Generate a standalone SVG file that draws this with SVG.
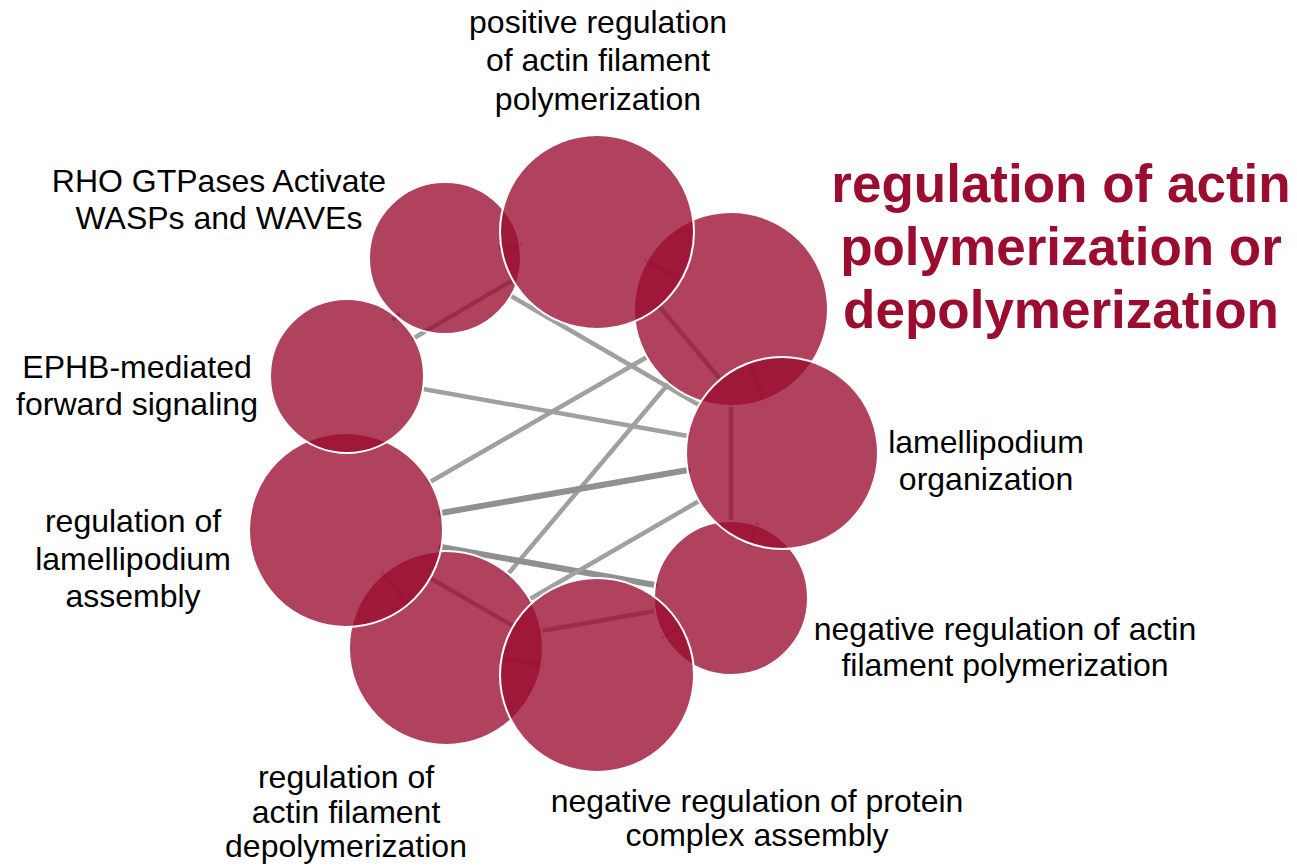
<svg xmlns="http://www.w3.org/2000/svg" width="1297" height="866" viewBox="0 0 1297 866">
<style>
.bg{fill:#ffffff}
.e{stroke:#a0a0a0;stroke-width:4.5;stroke-linecap:round;fill:none}
.ew{stroke:#909090;stroke-width:6;stroke-linecap:round;fill:none}
.n{fill:#9b0d2f;fill-opacity:0.78;stroke:#ffffff;stroke-width:2}
.lbl{font-family:"Liberation Sans",Arial,sans-serif;font-size:32px;fill:#000000;text-anchor:middle}
.title{font-family:"Liberation Sans",Arial,sans-serif;font-size:53px;font-weight:bold;fill:#9b0d2f;text-anchor:middle}
</style>
<rect class="bg" x="0" y="0" width="1297" height="866"/>
<g id="connectors">
<line class="e" x1="394" y1="319" x2="398" y2="315"/>
<line class="e" x1="501" y1="248" x2="520" y2="245"/>
<line class="e" x1="511" y1="296" x2="699" y2="405"/>
<line class="e" x1="647" y1="261" x2="681" y2="280"/>
<line class="e" x1="659" y1="306" x2="720" y2="379"/>
<line class="e" x1="763" y1="400" x2="750" y2="363"/>
<line class="e" x1="647" y1="357" x2="430" y2="482"/>
<line class="e" x1="669" y1="383" x2="508" y2="574"/>
<line class="e" x1="731" y1="406" x2="731" y2="521"/>
<line class="e" x1="414" y1="338" x2="513" y2="280"/>
<line class="e" x1="423" y1="389" x2="688" y2="436"/>
<line class="ew" x1="441" y1="513" x2="688" y2="470"/>
<line class="ew" x1="441" y1="547" x2="655" y2="585"/>
<line class="e" x1="409" y1="604" x2="383" y2="574"/>
<line class="e" x1="430" y1="578" x2="513" y2="626"/>
<line class="e" x1="530" y1="599" x2="699" y2="501"/>
<line class="e" x1="541" y1="665" x2="501" y2="658"/>
<line class="e" x1="541" y1="631" x2="655" y2="611"/>
<line class="e" x1="681" y1="627" x2="664" y2="636"/>
<line class="e" x1="750" y1="544" x2="757" y2="525"/>
</g>
<g id="node-rho">
<circle class="n" cx="445" cy="258" r="76"/>
<text class="lbl" x="219" y="192">RHO GTPases Activate</text>
<text class="lbl" x="219" y="229">WASPs and WAVEs</text>
</g>
<g id="node-main">
<circle class="n" cx="731" cy="309" r="97"/>
<text class="title" x="1061" y="202">regulation of actin</text>
<text class="title" x="1061" y="265">polymerization or</text>
<text class="title" x="1061" y="328">depolymerization</text>
</g>
<g id="node-depoly">
<circle class="n" cx="446" cy="648" r="97"/>
<text class="lbl" x="346" y="788">regulation of</text>
<text class="lbl" x="346" y="823">actin filament</text>
<text class="lbl" x="346" y="857">depolymerization</text>
</g>
<g id="node-negactin">
<circle class="n" cx="731" cy="598" r="77"/>
<text class="lbl" x="1005" y="640">negative regulation of actin</text>
<text class="lbl" x="1005" y="676">filament polymerization</text>
</g>
<g id="node-positive">
<circle class="n" cx="597" cy="232" r="97"/>
<text class="lbl" x="598" y="33">positive regulation</text>
<text class="lbl" x="598" y="71">of actin filament</text>
<text class="lbl" x="598" y="110">polymerization</text>
</g>
<g id="node-lamassembly">
<circle class="n" cx="346" cy="530" r="97"/>
<text class="lbl" x="133" y="532">regulation of</text>
<text class="lbl" x="133" y="570">lamellipodium</text>
<text class="lbl" x="133" y="607">assembly</text>
</g>
<g id="node-ephb">
<circle class="n" cx="347" cy="376" r="77"/>
<text class="lbl" x="137" y="378">EPHB-mediated</text>
<text class="lbl" x="137" y="415">forward signaling</text>
</g>
<g id="node-negprot">
<circle class="n" cx="597" cy="675" r="97"/>
<text class="lbl" x="757" y="812">negative regulation of protein</text>
<text class="lbl" x="757" y="846">complex assembly</text>
</g>
<g id="node-lamorg">
<circle class="n" cx="782" cy="453" r="96"/>
<text class="lbl" x="986" y="453">lamellipodium</text>
<text class="lbl" x="986" y="490">organization</text>
</g>
</svg>
